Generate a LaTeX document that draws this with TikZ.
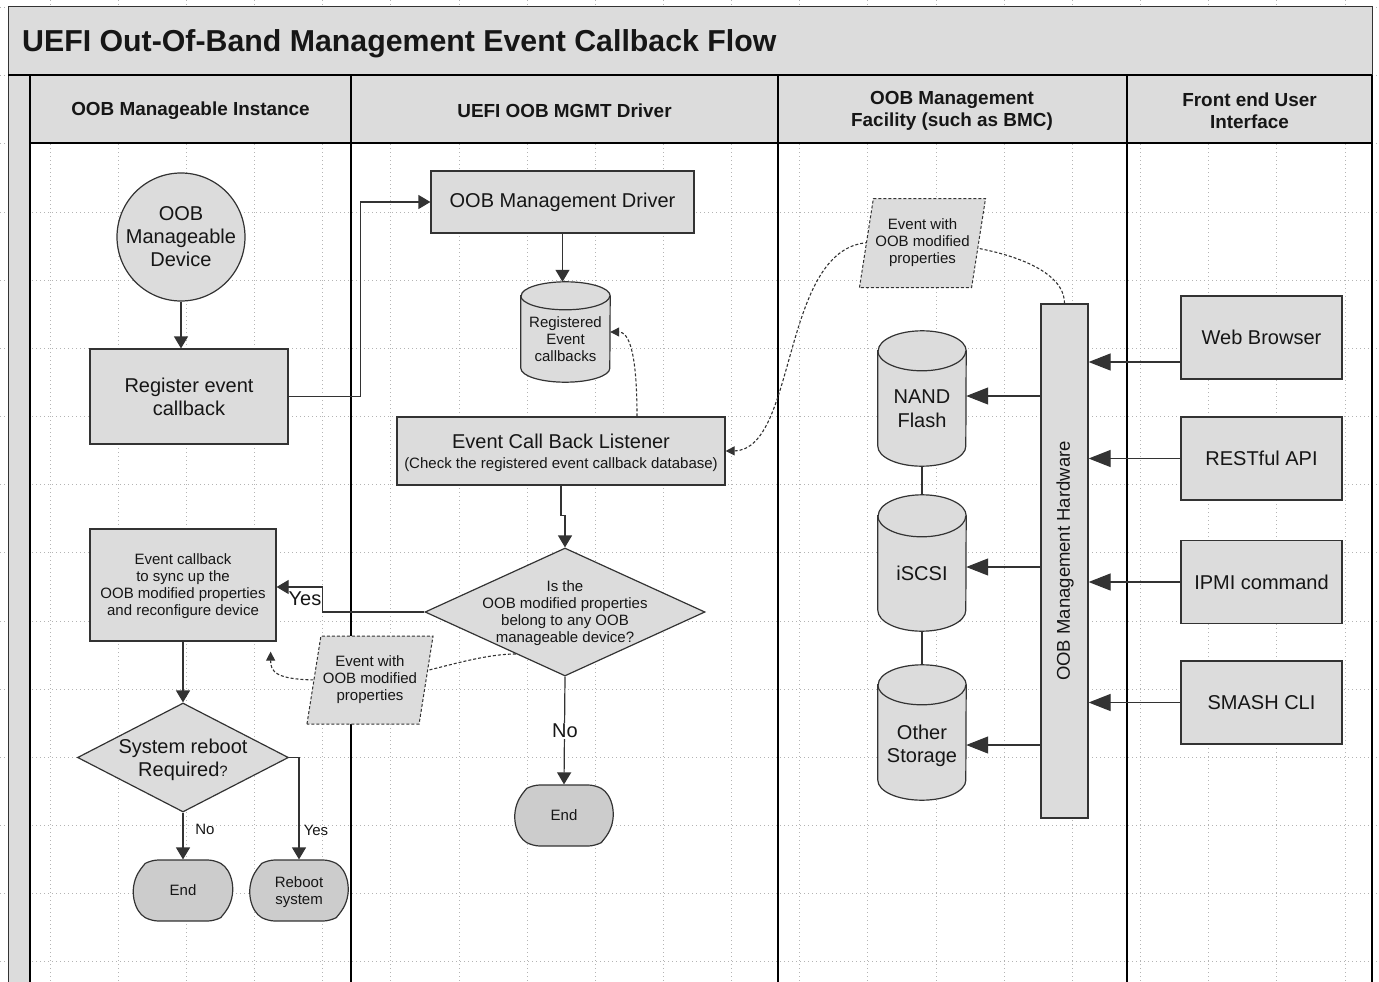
\documentclass[tikz,border=0pt]{standalone}
\usepackage{fontspec}
\setmainfont{Liberation Sans}
\usetikzlibrary{shapes.geometric, shapes.misc, arrows.meta, calc}

\definecolor{nodegray}{RGB}{220,220,220}
\definecolor{termgray}{RGB}{204,204,204}
\definecolor{edge}{RGB}{51,51,51}
\definecolor{gridc}{RGB}{180,180,180}
\definecolor{ink}{RGB}{22,22,22}

\newcommand{\ftbig}{\fontsize{20}{23}\selectfont}
\newcommand{\ftsmall}{\fontsize{15}{17}\selectfont}
\newcommand{\fthead}{\bfseries\fontsize{18.9}{22}\selectfont}

% cylinder outline drawn from the corners of an invisible box node
% #1 node name, #2 x radius, #3 y radius of the end ellipses
\newcommand{\drawcyl}[3]{%
  \draw[draw=edge, line width=1.2pt, fill=nodegray]
    ($(#1.north west)+(0,#3)$) -- ($(#1.south west)+(0,-#3)$)
    arc[start angle=180, end angle=360, x radius=#2pt, y radius=#3pt]
    -- ($(#1.north east)+(0,#3)$)
    arc[start angle=0, end angle=180, x radius=#2pt, y radius=#3pt] -- cycle;
  \draw[draw=edge, line width=1.2pt]
    ($(#1.north west)+(0,#3)$)
    arc[start angle=180, end angle=360, x radius=#2pt, y radius=#3pt];
}

\begin{document}
\begin{tikzpicture}[x=1pt, y=-1pt,
  txt/.style={inner sep=0pt, align=center, text=ink},
  box/.style={draw=edge, fill=nodegray, line width=1.2pt, align=center, text=ink, inner sep=2pt},
  circ/.style={circle, draw=edge, fill=nodegray, line width=1.2pt, align=center, text=ink, inner sep=0pt},
  dia/.style={diamond, draw=edge, fill=nodegray, line width=1.2pt, inner sep=0pt},
  term/.style={rounded rectangle, rounded rectangle arc length=120, rounded corners=7pt,
    draw=edge, fill=termgray, line width=1.2pt, align=center, text=ink, inner sep=2pt, font=\ftsmall},
  para/.style={trapezium, trapezium left angle=75, trapezium right angle=105,
    trapezium stretches body=true, draw=edge, fill=nodegray, line width=1pt,
    dash pattern=on 3pt off 2pt, align=center, text=ink, inner sep=2pt, font=\ftsmall},
  cylbox/.style={inner sep=0pt},
  head/.style={inner sep=0pt, align=center, text=ink, font=\fthead},
  big/.style={font=\ftbig},
  small/.style={font=\ftsmall},
  flow/.style={draw=edge, line width=1.2pt, -{Triangle[length=12pt, width=14pt]}},
  bigflow/.style={draw=edge, line width=1.2pt, -{Triangle[length=22pt, width=17pt]}},
  plain/.style={draw=edge, line width=1.2pt},
  dflow/.style={draw=edge, line width=1.1pt, dash pattern=on 3pt off 2pt,
    -{Triangle[length=9pt, width=9pt]}},
  gridline/.style={draw=gridc, line width=0.7pt, dash pattern=on 0.8pt off 3.2pt},
  lane/.style={draw=black, line width=2.6pt}
]
\useasboundingbox (0,0) rectangle (1379,982);
\clip (0,0) rectangle (1379,982);

% background grid
\foreach \i in {0,...,19} \draw[gridline] (50+68.15*\i,0) -- (50+68.15*\i,982);
\foreach \j in {0,...,14} \draw[gridline] (0,7.5+68.15*\j) -- (1379,7.5+68.15*\j);

% pool, title bar and lane headers
\fill[nodegray] (8,7) rectangle (1372,75);
\fill[nodegray] (8,75) rectangle (30,990);
\fill[nodegray] (30,75) rectangle (1372,143);
\draw[draw=edge, line width=1pt] (8,990) -- (8,7) -- (1372,7) -- (1372,75);
\draw[lane] (8,75) -- (1372,75);
\draw[lane] (30,143) -- (1372,143);
\foreach \x in {30,351,778,1127,1372} \draw[lane] (\x,75) -- (\x,990);

\node[txt, anchor=west, font=\bfseries\fontsize{30.3}{34}\selectfont] (title) at (22,43.5)
  {UEFI Out-Of-Band Management Event Callback Flow};
\node[head] (h1) at (190.5,111) {OOB Manageable Instance};
\node[head] (h2) at (564.5,110.5) {UEFI OOB MGMT Driver};
\node[head] (h3) at (952,111) {OOB Management\\Facility (such as BMC)};
\node[head] (h4) at (1249.5,111) {Front end User\\Interface};

% ---- OOB manageable instance lane
\node[circ, big, minimum size=128] (dev) at (181,237) {OOB\\Manageable\\Device};
\node[box, big, minimum width=198, minimum height=95] (reg) at (189,396.5) {Register event\\callback};
\node[box, minimum width=186, minimum height=112] (cb) at (183,585) {};
\node[txt, small] (cbtxt) at (183,586.5)
  {Event callback\\to sync up the\\OOB modified properties\\and reconfigure device};
\node[dia, minimum width=211, minimum height=109] (rb) at (183,757.5) {};
\node[txt, big] (rbtxt) at (183,759.5) {System reboot\\Required{\ftsmall ?}};
\node[term, minimum width=103, minimum height=61] (end1) at (183,890.5) {End};
\node[term, minimum width=102, minimum height=61] (end2) at (299,890.5) {};
\node[txt, small] (end2txt) at (299,892) {Reboot\\system};

% ---- UEFI OOB MGMT driver lane
\node[box, big, minimum width=263, minimum height=62] (drv) at (562.5,202) {OOB Management Driver};
\node[cylbox, minimum width=89, minimum height=100] (regdb) at (565.5,332) {};
\drawcyl{regdb}{44.5}{14}
\node[txt, small] (regdbtxt) at (565.5,339) {Registered\\Event\\callbacks};
\node[box, minimum width=328, minimum height=68] (lst) at (561,451) {};
\node[txt, big] (lsttxt) at (561,453)
  {Event Call Back Listener\\[-3pt]{\ftsmall (Check the registered event callback database)}};
\node[dia, minimum width=280, minimum height=128] (q) at (565,612) {};
\node[term, minimum width=102, minimum height=61] (endm) at (564,815.5) {End};

% ---- OOB management facility lane
\node[cylbox, minimum width=88, minimum height=135] (nand) at (922,398.5) {};
\drawcyl{nand}{44}{20}
\node[txt, font=\fontsize{20}{24}\selectfont] (nandtxt) at (922,409) {NAND\\Flash};
\node[cylbox, minimum width=88, minimum height=136] (iscsi) at (922,563) {};
\drawcyl{iscsi}{44}{21}
\node[txt, big] (iscsitxt) at (922,573) {iSCSI};
\node[cylbox, minimum width=88, minimum height=135] (other) at (922,732.5) {};
\drawcyl{other}{44}{20}
\node[txt, big] (othertxt) at (922,746) {Other\\Storage};
\draw[plain] (nand.south) -- (iscsi.north);
\draw[plain] (iscsi.south) -- (other.north);
\node[box, minimum width=47, minimum height=514] (hw) at (1064.5,561) {};
\node[txt, rotate=90, font=\fontsize{18.5}{21}\selectfont] (hwtxt) at (1065,561) {OOB Management Hardware};

% ---- front end user interface lane
\node[box, big, minimum width=161, minimum height=83] (web) at (1261.5,337.5) {Web Browser};
\node[box, big, minimum width=161, minimum height=83] (rest) at (1261.5,458.5) {RESTful API};
\node[box, big, minimum width=161, minimum height=83] (ipmi) at (1261.5,582) {IPMI command};
\node[box, big, minimum width=161, minimum height=83] (smash) at (1261.5,702.5) {SMASH CLI};

% ---- dashed event paths (drawn beneath the event shapes)
\draw[dflow] ($(q.south)!0.35!(q.west)$) .. controls +(-45,0) and +(40,0) .. (370,680)
  -- (320,680) .. controls +(-45,0) and +(0,20) .. ([xshift=-6pt,yshift=-10pt]cb.south east);
\draw[dflow] (hw.north) .. controls +(0,-45) and +(42,0) .. (922.5,242.5)
  -- (873,242.5) .. controls +(-93,-2) and +(73,-1) .. (lst.east);
\node[para, minimum width=123, minimum height=88] (evm) at (370,680)
  {Event with\\OOB modified\\properties};
\node[para, minimum width=122, minimum height=89] (evb) at (922.5,243)
  {Event with\\OOB modified\\properties};
\node[txt, small] (qtxt) at (565,613.5) {Is the\\OOB modified properties\\belong to any OOB\\manageable device?};

% ---- connectors
\draw[flow] (dev.south) -- (dev.south |- reg.north);
\draw[flow] (reg.east) -- ++(72,0) |- (drv.west);
\draw[flow] (drv.south) -- (drv.south |- regdb.north);
\draw[dflow] ([xshift=76pt]lst.north) .. controls +(0,-67) and +(18,0) .. (regdb.east);
\draw[flow] (lst.south) -- ++(0,30) -| (q.north);
\draw[flow] (q.west) -- ++(-102,0) |- ([yshift=-2pt]cb.east);
\node[txt, big] (yes1) at (305,598.5) {Yes};
\draw[flow] (q.south) -- (endm.north);
\node[txt, big, fill=white, inner sep=1pt] (no1) at (565,731) {No};
\draw[flow] (cb.south) -- (rb.north);
\draw[flow] (rb.south) -- (end1.north);
\node[txt, small] (no2) at (205,829) {No};
\draw[flow] (rb.east) -| (end2.north);
\node[txt, small] (yes2) at (316,830) {Yes};

\coordinate (nandin) at ([yshift=2.5pt]nand.east);
\coordinate (iscsiin) at ([yshift=-4pt]iscsi.east);
\coordinate (otherin) at ([yshift=-12.5pt]other.east);
\draw[bigflow] (nandin -| hw.west) -- (nandin);
\draw[bigflow] (iscsiin -| hw.west) -- (iscsiin);
\draw[bigflow] (otherin -| hw.west) -- (otherin);

\coordinate (webout) at ([yshift=-24.5pt]web.west);
\draw[bigflow] (webout) -- (webout -| hw.east);
\draw[bigflow] (rest.west) -- (rest.west -| hw.east);
\draw[bigflow] (ipmi.west) -- (ipmi.west -| hw.east);
\draw[bigflow] (smash.west) -- (smash.west -| hw.east);
\end{tikzpicture}
\end{document}
